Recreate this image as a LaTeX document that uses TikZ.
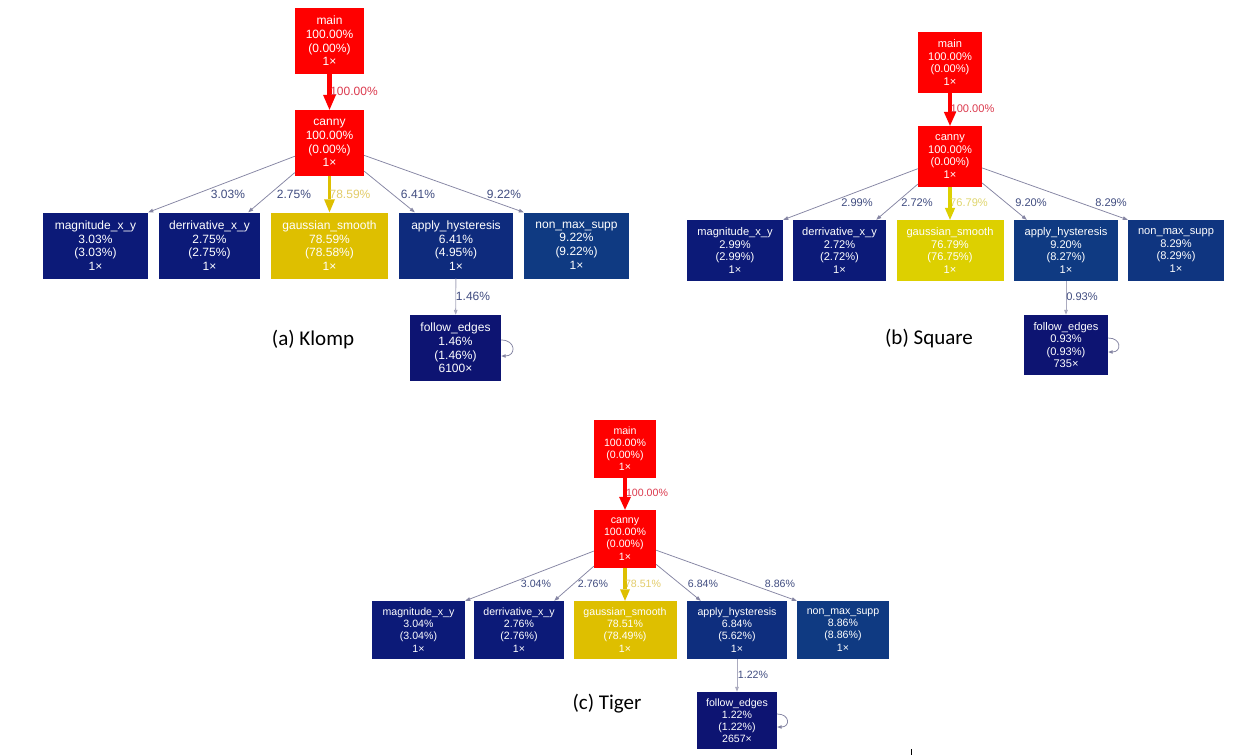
\documentclass[tikz,border=0pt]{standalone}
\usepackage{fontspec}
\setmainfont{Liberation Sans}
\newfontfamily\capfont{Carlito}
\usetikzlibrary{arrows.meta}
\definecolor{gvred}{HTML}{FF0000}
\definecolor{navy}{HTML}{0C1A78}
\definecolor{navyd}{HTML}{0D1472}
\definecolor{blueA}{HTML}{0E2B7D}
\definecolor{blueC}{HTML}{0E2E7E}
\definecolor{blueD}{HTML}{0F3580}
\definecolor{blueE}{HTML}{0F3A82}
\definecolor{yelA}{HTML}{DEBF00}
\definecolor{yelB}{HTML}{DDD000}
\definecolor{lblblue}{HTML}{404C80}
\definecolor{lblred}{HTML}{DC3A4E}
\definecolor{lblyelA}{HTML}{E3CC6A}
\definecolor{lblyelB}{HTML}{E0D66E}
\definecolor{edgegray}{HTML}{8585A3}
\definecolor{edgelight}{HTML}{ABABBF}
\begin{document}
\begin{tikzpicture}[x=1pt,y=-1pt,
  fun/.style={rectangle, inner sep=0pt, align=center, text=white},
  fa/.style={font=\fontsize{12}{13.7}\selectfont},
  fb/.style={font=\fontsize{11.1}{12.6}\selectfont},
  fc/.style={font=\fontsize{10.6}{12.1}\selectfont},
  lbl/.style={inner sep=0pt},
  captext/.style={inner sep=0pt, font=\capfont\fontsize{21}{25}\selectfont},
  thinedge/.style={draw=edgegray, line width=0.75pt, -{Triangle[length=5pt,width=3.6pt]}},
  lightedge/.style={draw=edgelight, line width=0.9pt, -{Triangle[length=5pt,width=3.6pt]}},
  loopedge/.style={draw=edgegray, line width=0.75pt, -{Triangle[length=4.5pt,width=3.4pt]}},
  redA/.style={draw=gvred, line width=4.3pt, -{Triangle[length=15pt,width=13pt,line width=0pt]}},
  redB/.style={draw=gvred, line width=4pt, -{Triangle[length=14pt,width=12.5pt,line width=0pt]}},
  redC/.style={draw=gvred, line width=3.8pt, -{Triangle[length=13pt,width=12pt,line width=0pt]}},
  yelAe/.style={draw=yelA, line width=3.5pt, -{Triangle[length=13pt,width=11pt,line width=0pt]}},
  yelBe/.style={draw=yelB, line width=3.2pt, -{Triangle[length=12pt,width=10.5pt,line width=0pt]}},
  yelCe/.style={draw=yelA, line width=3.1pt, -{Triangle[length=11.5pt,width=10pt,line width=0pt]}},
]
\fill[white] (0,0) rectangle (1249,755);
\useasboundingbox (0,0) rectangle (1249,755);

% ---------------- (a) Klomp ----------------
\begin{scope}[every node/.append style={fa}]
\node[fun,fill=gvred,minimum width=69pt,minimum height=66pt] (am) at (329.5,41) {main\\100.00\%\\(0.00\%)\\1×};
\node[fun,fill=gvred,minimum width=69pt,minimum height=66pt] (ac) at (329.5,143) {canny\\100.00\%\\(0.00\%)\\1×};
\node[fun,fill=navy,minimum width=105pt,minimum height=66pt] (amag) at (95.5,245.5) {magnitude\_x\_y\\3.03\%\\(3.03\%)\\1×};
\node[fun,fill=navy,minimum width=101pt,minimum height=66pt] (ader) at (209.5,245.5) {derrivative\_x\_y\\2.75\%\\(2.75\%)\\1×};
\node[fun,fill=yelA,minimum width=117pt,minimum height=66pt] (agau) at (329.5,245.5) {gaussian\_smooth\\78.59\%\\(78.58\%)\\1×};
\node[fun,fill=blueA,minimum width=114pt,minimum height=66pt] (aapp) at (456,245.5) {apply\_hysteresis\\6.41\%\\(4.95\%)\\1×};
\node[fun,fill=blueE,minimum width=105pt,minimum height=66pt] (anms) at (576.5,245.5) {non\_max\_supp\\9.22\%\\(9.22\%)\\1×};
\node[fun,fill=navyd,minimum width=91pt,minimum height=66pt] (afol) at (455.5,348) {follow\_edges\\1.46\%\\(1.46\%)\\6100×};

\draw[redA] (am) -- (ac);
\draw[yelAe] (ac) -- (agau);
\draw[thinedge] (ac) -- (amag.north east);
\draw[thinedge] (ac) -- ([xshift=-12pt]ader.north east);
\draw[thinedge] (ac) -- ([xshift=16pt]aapp.north west);
\draw[thinedge] (ac) -- (anms.north west);
\draw[lightedge] (aapp) -- (afol);
\draw[loopedge] ([yshift=8pt]afol.east) .. controls +(15,0) and +(15,0) .. ([yshift=-8pt]afol.east);

\node[lbl,text=lblred] (al1) at (354,91) {100.00\%};
\node[lbl,text=lblblue] (al2) at (228,194) {3.03\%};
\node[lbl,text=lblblue] (al3) at (294,194) {2.75\%};
\node[lbl,text=lblyelA] (al4) at (350,194) {78.59\%};
\node[lbl,text=lblblue] (al5) at (418,194) {6.41\%};
\node[lbl,text=lblblue] (al6) at (504,194) {9.22\%};
\node[lbl,text=lblblue] (al7) at (473,296) {1.46\%};
\end{scope}
\node[captext] (acap) at (313,340) {(a) Klomp};

% ---------------- (b) Square ----------------
\begin{scope}[every node/.append style={fb}]
\node[fun,fill=gvred,minimum width=64pt,minimum height=61pt] (bm) at (950,62.5) {main\\100.00\%\\(0.00\%)\\1×};
\node[fun,fill=gvred,minimum width=64pt,minimum height=61pt] (bc) at (950,156.5) {canny\\100.00\%\\(0.00\%)\\1×};
\node[fun,fill=navy,minimum width=96pt,minimum height=61pt] (bmag) at (735,250.5) {magnitude\_x\_y\\2.99\%\\(2.99\%)\\1×};
\node[fun,fill=navy,minimum width=93pt,minimum height=61pt] (bder) at (839.5,250.5) {derrivative\_x\_y\\2.72\%\\(2.72\%)\\1×};
\node[fun,fill=yelB,minimum width=107pt,minimum height=61pt] (bgau) at (950,250.5) {gaussian\_smooth\\76.79\%\\(76.75\%)\\1×};
\node[fun,fill=blueE,minimum width=104pt,minimum height=61pt] (bapp) at (1066,250.5) {apply\_hysteresis\\9.20\%\\(8.27\%)\\1×};
\node[fun,fill=blueD,minimum width=96pt,minimum height=61pt] (bnms) at (1176,250.5) {non\_max\_supp\\8.29\%\\(8.29\%)\\1×};
\node[fun,fill=navyd,minimum width=84pt,minimum height=60pt] (bfol) at (1066,345) {follow\_edges\\0.93\%\\(0.93\%)\\735×};

\draw[redB] (bm) -- (bc);
\draw[yelBe] (bc) -- (bgau);
\draw[thinedge] (bc) -- (bmag.north east);
\draw[thinedge] (bc) -- ([xshift=-10pt]bder.north east);
\draw[thinedge] (bc) -- ([xshift=13pt]bapp.north west);
\draw[thinedge] (bc) -- (bnms.north west);
\draw[lightedge] (bapp) -- (bfol);
\draw[loopedge] ([yshift=7pt]bfol.east) .. controls +(13.5,0) and +(13.5,0) .. ([yshift=-7pt]bfol.east);

\node[lbl,text=lblred] (bl1) at (972.5,109) {100.00\%};
\node[lbl,text=lblblue] (bl2) at (857,203) {2.99\%};
\node[lbl,text=lblblue] (bl3) at (917,203) {2.72\%};
\node[lbl,text=lblyelB] (bl4) at (969,203) {76.79\%};
\node[lbl,text=lblblue] (bl5) at (1031,203) {9.20\%};
\node[lbl,text=lblblue] (bl6) at (1111,203) {8.29\%};
\node[lbl,text=lblblue] (bl7) at (1082,297) {0.93\%};
\end{scope}
\node[captext] (bcap) at (929,339) {(b) Square};

% ---------------- (c) Tiger ----------------
\begin{scope}[every node/.append style={fc}]
\node[fun,fill=gvred,minimum width=62pt,minimum height=58pt] (cm) at (625,449) {main\\100.00\%\\(0.00\%)\\1×};
\node[fun,fill=gvred,minimum width=62pt,minimum height=58pt] (cc) at (625,539) {canny\\100.00\%\\(0.00\%)\\1×};
\node[fun,fill=navy,minimum width=93pt,minimum height=58pt] (cmag) at (418.5,630) {magnitude\_x\_y\\3.04\%\\(3.04\%)\\1×};
\node[fun,fill=navy,minimum width=90pt,minimum height=58pt] (cder) at (519,630) {derrivative\_x\_y\\2.76\%\\(2.76\%)\\1×};
\node[fun,fill=yelA,minimum width=103pt,minimum height=58pt] (cgau) at (625,630) {gaussian\_smooth\\78.51\%\\(78.49\%)\\1×};
\node[fun,fill=blueC,minimum width=100pt,minimum height=58pt] (capp) at (737,630) {apply\_hysteresis\\6.84\%\\(5.62\%)\\1×};
\node[fun,fill=blueE,minimum width=92pt,minimum height=58pt] (cnms) at (843,630) {non\_max\_supp\\8.86\%\\(8.86\%)\\1×};
\node[fun,fill=navyd,minimum width=80pt,minimum height=57pt] (cfol) at (737,720.5) {follow\_edges\\1.22\%\\(1.22\%)\\2657×};

\draw[redC] (cm) -- (cc);
\draw[yelCe] (cc) -- (cgau);
\draw[thinedge] (cc) -- (cmag.north east);
\draw[thinedge] (cc) -- ([xshift=-10pt]cder.north east);
\draw[thinedge] (cc) -- ([xshift=14pt]capp.north west);
\draw[thinedge] (cc) -- (cnms.north west);
\draw[lightedge] (capp) -- (cfol);
\draw[loopedge] ([yshift=6.5pt]cfol.east) .. controls +(13,0) and +(13,0) .. ([yshift=-6.5pt]cfol.east);

\node[lbl,text=lblred] (cl1) at (647,493) {100.00\%};
\node[lbl,text=lblblue] (cl2) at (536,584) {3.04\%};
\node[lbl,text=lblblue] (cl3) at (593,584) {2.76\%};
\node[lbl,text=lblyelA] (cl4) at (643,584) {78.51\%};
\node[lbl,text=lblblue] (cl5) at (703,584) {6.84\%};
\node[lbl,text=lblblue] (cl6) at (780,584) {8.86\%};
\node[lbl,text=lblblue] (cl7) at (753,675) {1.22\%};
\end{scope}
\node[captext] (ccap) at (607,704) {(c) Tiger};

\coordinate (tk1) at (911,749);
\coordinate (tk2) at (911,755);
\draw[line width=0.8pt] (tk1) -- (tk2);
\end{tikzpicture}
\end{document}
